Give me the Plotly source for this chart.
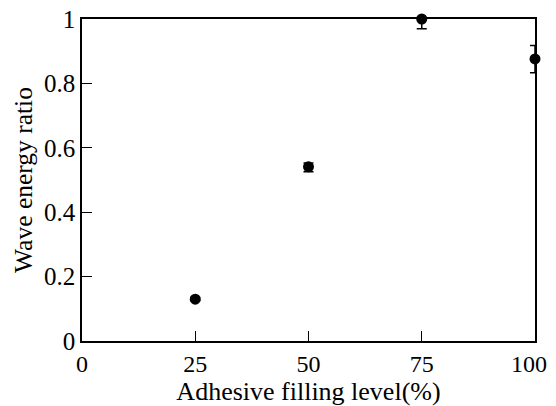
import plotly.graph_objects as go

filling_level = [25, 50, 75, 100]
energy_ratio = [0.130, 0.541, 1.000, 0.876]
err_plus = [0.005, 0.012, 0.0, 0.042]
err_minus = [0.005, 0.015, 0.030, 0.043]

x_ticks = [0, 25, 50, 75, 100]
x_tick_text = ["0", "25", "50", "75", "100\u2007"]
y_ticks = [0, 0.2, 0.4, 0.6, 0.8, 1]
y_tick_text = ["0", "0.2", "0.4", "0.6", "0.8", "1"]

fig = go.Figure()
fig.add_trace(go.Scatter(
    x=filling_level, y=energy_ratio, mode="markers",
    marker=dict(color="black", size=11),
    error_y=dict(type="data", symmetric=False, array=err_plus, arrayminus=err_minus,
                 color="black", thickness=1.5, width=5),
    cliponaxis=False, showlegend=False,
))

font = "Liberation Serif, Times New Roman, serif"
# page body has an 8px margin, so the figure is offset by 8px from the window corner
fig.update_layout(
    width=540, height=398,
    margin=dict(l=74, r=13, t=11, b=65),
    paper_bgcolor="white", plot_bgcolor="white",
    font=dict(family=font, color="black"),
    xaxis=dict(range=[0, 100], tickvals=x_ticks, ticktext=x_tick_text, ticks="inside",
               ticklen=10, tickwidth=1.2, tickcolor="black", showline=True,
               linecolor="black", linewidth=1.5, mirror=True, showgrid=False,
               zeroline=False, automargin=False, ticklabeloverflow="allow",
               tickfont=dict(size=24), title=dict(text="Adhesive filling level(%)",
               font=dict(size=26), standoff=2)),
    yaxis=dict(range=[0, 1], tickvals=y_ticks, ticktext=y_tick_text, ticks="inside",
               ticklen=10, tickwidth=1.2, tickcolor="black", showline=True,
               linecolor="black", linewidth=1.5, mirror=True, showgrid=False,
               zeroline=False, automargin=False, ticklabeloverflow="allow",
               tickfont=dict(size=25),
               title=dict(text="Wave energy ratio", font=dict(size=25.5), standoff=4)),
)

fig.write_html("out.html")
